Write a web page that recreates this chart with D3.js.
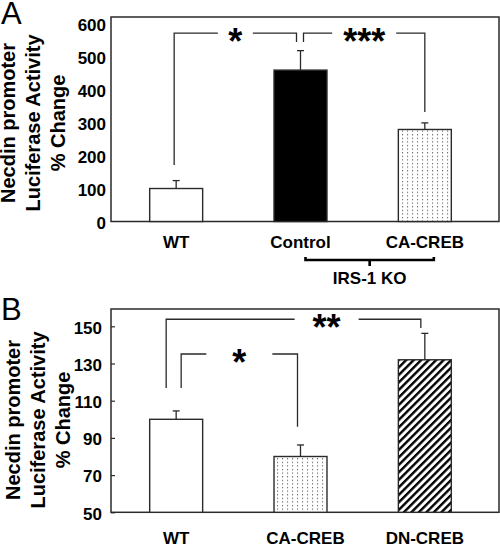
<!DOCTYPE html>
<html><head><meta charset="utf-8">
<script src="https://cdn.jsdelivr.net/npm/d3@7"></script>
<style>body{margin:0;background:#fff} svg{display:block} text{font-family:"Liberation Sans",Arial,Helvetica,sans-serif}</style>
</head><body><svg id="c" width="500" height="545"></svg>
<script>
// ---------- Panel A data ----------
const catsA = ["WT", "Control", "CA-CREB"];
const meanA = [100, 459, 279];
const errA = [24, 59, 20];
const ticksA = [0, 100, 200, 300, 400, 500, 600];
const fillA = ["white", "black", "dots"];
const sigA = [
  {from: "WT", to: "Control", label: "*", top: 571, fromEnd: 171, toEnd: 544},
  {from: "Control", to: "CA-CREB", label: "***", top: 571, fromEnd: 544, toEnd: 332}
];
const groupA = {from: "Control", to: "CA-CREB", label: "IRS-1 KO"};

// ---------- Panel B data ----------
const catsB = ["WT", "CA-CREB", "DN-CREB"];
const meanB = [100, 80, 132];
const errB = [4.5, 6.2, 14.2];
const ticksB = [50, 70, 90, 110, 130, 150];
const fillB = ["white", "dots", "hatch"];
const sigB = [
  {from: "WT", to: "DN-CREB", label: "**", top: 153.8, fromEnd: 116.8, toEnd: 149.1},
  {from: "WT", to: "CA-CREB", label: "*", top: 135.1, fromEnd: 116.8, toEnd: 96}
];

const titleLines = ["Necdin promoter", "Luciferase Activity", "% Change"];

// ---------- layout ----------
const svg = d3.select("#c");
const defs = svg.append("defs");
const dots = defs.append("pattern").attr("id", "dots").attr("patternUnits", "userSpaceOnUse")
  .attr("width", 5).attr("height", 3.6);
dots.append("rect").attr("width", 5).attr("height", 3.6).attr("fill", "#fff");
dots.append("rect").attr("x", 2).attr("y", 1).attr("width", 1.1).attr("height", 1.1).attr("fill", "#555");
const hatch = defs.append("pattern").attr("id", "hatch").attr("patternUnits", "userSpaceOnUse")
  .attr("width", 5.3).attr("height", 10).attr("patternTransform", "rotate(45)");
hatch.append("rect").attr("width", 5.3).attr("height", 10).attr("fill", "#fff");
hatch.append("rect").attr("x", 0).attr("y", 0).attr("width", 2.4).attr("height", 10).attr("fill", "#000");

const fillMap = {white: "#fff", black: "#000", dots: "url(#dots)", hatch: "url(#hatch)"};
const LINE = "#2a2a2a";

function panel(cfg) {
  const {cats, mean, err, ticks, fills, sig, nudges, L} = cfg;
  const x = d3.scaleBand().domain(cats).range([114, 487]).paddingInner(0.574).paddingOuter(0.287);
  const y = d3.scaleLinear().domain(L.domain).range([L.bottom, L.top]);
  const cx = c => x(c) + x.bandwidth() / 2;
  const g = svg.append("g");

  // letter
  g.append("text").attr("x", L.letterX).attr("y", L.letterY).attr("font-size", 31)
    .attr("fill", "#000").text(L.letter);

  // axis title
  const tg = g.append("g").attr("transform", `translate(${L.titleX},${L.titleY}) rotate(-90)`);
  titleLines.forEach((t, i) => tg.append("text").attr("x", 0).attr("y", i * 25)
    .attr("text-anchor", "middle").attr("font-size", 20).attr("font-weight", "bold").text(t));

  // y axis
  const ax = g.append("g").attr("transform", `translate(${L.x0},0)`)
    .call(d3.axisLeft(y).tickValues(ticks).tickSize(L.tickIn ? -4 : 0).tickPadding(L.tickIn ? 9 : 5));
  ax.select(".domain").remove();
  ax.selectAll(".tick line").attr("stroke", LINE).attr("stroke-width", 1.2);
  ax.selectAll(".tick text").attr("font-size", 17).attr("font-weight", "bold").attr("fill", "#000")
    .attr("font-family", '"Liberation Sans",Arial,sans-serif').attr("dy", "0.4em");

  // box
  g.append("rect").attr("x", L.x0).attr("y", L.top).attr("width", L.x1 - L.x0).attr("height", L.bottom - L.top)
    .attr("fill", "none").attr("stroke", LINE).attr("stroke-width", 1.5);

  // bars
  g.selectAll(".bar").data(cats).join("rect").attr("class", "bar")
    .attr("x", d => x(d)).attr("width", x.bandwidth())
    .attr("y", (d, i) => y(mean[i])).attr("height", (d, i) => y(L.domain[0]) - y(mean[i]))
    .attr("fill", (d, i) => fillMap[fills[i]]).attr("stroke", LINE).attr("stroke-width", 1.4);

  // error bars
  cats.forEach((c, i) => {
    g.append("line").attr("x1", cx(c)).attr("x2", cx(c)).attr("y1", y(mean[i])).attr("y2", y(mean[i] + err[i]))
      .attr("stroke", LINE).attr("stroke-width", 1.3);
    g.append("line").attr("x1", cx(c) - 3.5).attr("x2", cx(c) + 3.5)
      .attr("y1", y(mean[i] + err[i])).attr("y2", y(mean[i] + err[i]))
      .attr("stroke", LINE).attr("stroke-width", 1.3);
  });

  // significance brackets
  sig.forEach((s, k) => {
    const n = nudges[k];
    const xa = cx(s.from) + n.dxFrom, xb = cx(s.to) + n.dxTo;
    const yt = y(s.top);
    const xm = xa + (xb - xa) * n.at;
    const path = d3.path();
    path.moveTo(xa, y(s.fromEnd)); path.lineTo(xa, yt); path.lineTo(xm - n.gap, yt);
    path.moveTo(xm + n.gap, yt); path.lineTo(xb, yt); path.lineTo(xb, y(s.toEnd));
    g.append("path").attr("d", path.toString()).attr("fill", "none")
      .attr("stroke", LINE).attr("stroke-width", 1.3);
    g.append("text").attr("x", xm).attr("y", yt + 21).attr("text-anchor", "middle")
      .attr("font-size", 36).attr("font-weight", "bold").text(s.label);
  });

  // category labels
  g.selectAll(".cl").data(cats).join("text").attr("class", "cl")
    .attr("x", d => cx(d) + (L.labelDx[d] || 0)).attr("y", L.labelY).attr("text-anchor", "middle")
    .attr("font-size", 17).attr("font-weight", "bold").text(d => d);

  // group bracket
  if (cfg.group) {
    const gr = cfg.group;
    const xa = cx(gr.from) + 5, xb = cx(gr.to) + 9, yb = L.groupY;
    const p = d3.path();
    p.moveTo(xa, yb - 3); p.lineTo(xa, yb); p.lineTo(xb, yb); p.lineTo(xb, yb - 3);
    p.moveTo((xa + xb) / 2, yb); p.lineTo((xa + xb) / 2, yb + 6);
    g.append("path").attr("d", p.toString()).attr("fill", "none").attr("stroke", "#000").attr("stroke-width", 2.6);
    g.append("text").attr("x", (xa + xb) / 2).attr("y", yb + 24).attr("text-anchor", "middle")
      .attr("font-size", 17).attr("font-weight", "bold").text(gr.label);
  }
}

panel({
  cats: catsA, mean: meanA, err: errA, ticks: ticksA, fills: fillA, sig: sigA, group: groupA,
  nudges: [{dxFrom: -2, dxTo: -4, gap: 17.5, at: 0.5}, {dxFrom: 3, dxTo: 0, gap: 32, at: 0.5}],
  L: {letter: "A", letterX: 1, letterY: 24, x0: 111, x1: 499, top: 17, bottom: 221.5, domain: [0, 620],
      titleX: 14.5, titleY: 123, labelY: 248, labelDx: {}, tickIn: false, groupY: 260}
});
panel({
  cats: catsB, mean: meanB, err: errB, ticks: ticksB, fills: fillB, sig: sigB,
  nudges: [{dxFrom: -10, dxTo: -4, gap: 32, at: 0.63}, {dxFrom: 5, dxTo: -3, gap: 33, at: 0.5}],
  L: {letter: "B", letterX: 1, letterY: 320, x0: 111, x1: 499, top: 309, bottom: 512.3, domain: [50, 159.3],
      titleX: 19.5, titleY: 420, labelY: 544, labelDx: {"CA-CREB": 5}, tickIn: true}
});
</script></body></html>
